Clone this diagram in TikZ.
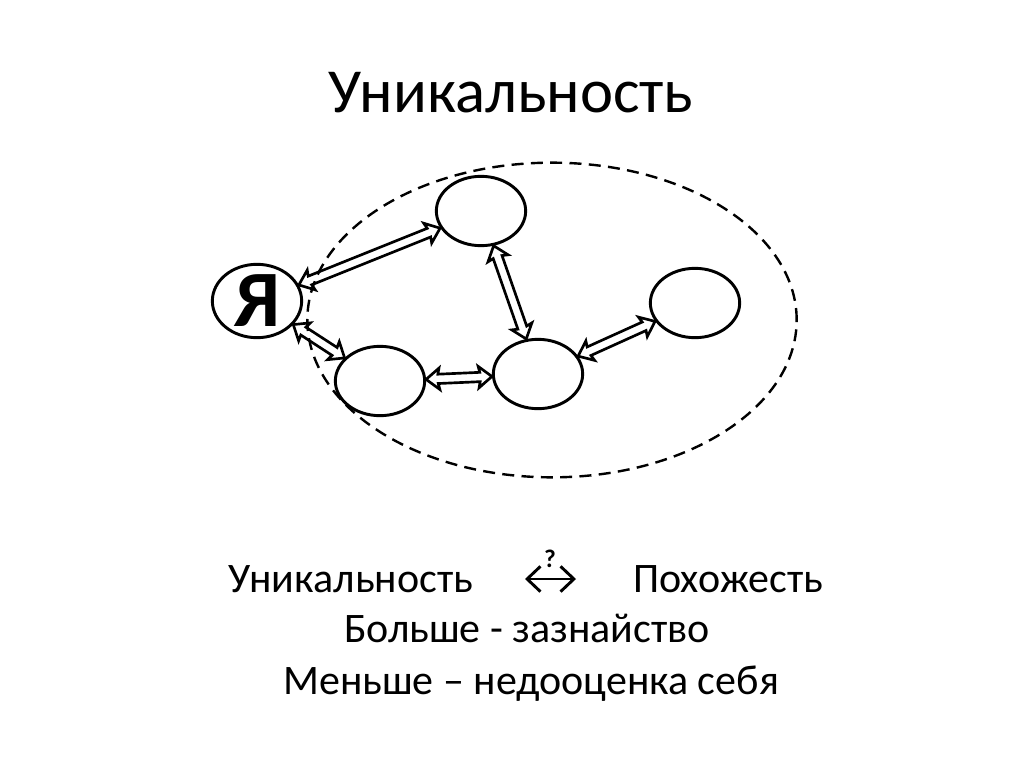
\documentclass[tikz,border=0pt]{standalone}
\usepackage{fontspec}
\setmainfont{Carlito}
\usetikzlibrary{arrows.meta,shapes.geometric,calc}
\tikzset{
  link/.style={draw,line width=2pt,line join=miter,to path={
    let \p1=(\tikztostart.center), \p2=(\tikztotarget.center),
        \n1={atan2(\y2-\y1,\x2-\x1)}, \n2={\n1+180},
        \p3=(\tikztostart.\n1), \p4=(\tikztotarget.\n2),
        \n3={veclen(\x4-\x3,\y4-\y3)}
    in [shift={(\p3)},rotate=\n1]
      (0pt,0pt) -- (10pt,8pt) -- (9pt,3.5pt) -- (\n3-9pt,3.5pt) -- (\n3-10pt,8pt)
      -- (\n3,0pt) -- (\n3-10pt,-8pt) -- (\n3-9pt,-3.5pt) -- (9pt,-3.5pt) -- (10pt,-8pt) -- cycle}}
}
\begin{document}
\begin{tikzpicture}[x=0.75pt,y=-0.75pt,
  bub/.style={draw,ellipse,line width=2.2pt,minimum width=67pt,minimum height=52pt,inner sep=0pt},
  line/.style={font=\fontsize{31.5}{38}\selectfont,anchor=base}]
  \useasboundingbox (0,0) rectangle (1024,767);
  \node[font=\fontsize{47}{56}\selectfont,anchor=base] (title) at (511,113) {Уникальность};
  % group and people
  \node[draw,ellipse,dashed,line width=1.8pt,dash pattern=on 9pt off 5.5pt,
    minimum width=367pt,minimum height=236pt] (group) at (552,320) {};
  \node[bub,font=\fontsize{60}{66}\selectfont\bfseries] (me) at (257,301) {Я};
  \node[bub] (top) at (481,211) {};
  \node[bub] (right) at (695,303) {};
  \node[bub] (mid) at (538,374) {};
  \node[bub] (low) at (380,381) {};
  \path[link] (me) to (top);
  \path[link] (me) to (low);
  \path[link] (top) to (mid);
  \path[link] (low) to (mid);
  \path[link] (mid) to (right);
  % text below
  \node[line,anchor=base west] (uniq) at (224,592) {Уникальность};
  \node[line,anchor=base east] (same) at (828,592) {Похожесть};
  \coordinate (ql) at (525,579);
  \coordinate (qr) at (576,579);
  \draw[line width=2.2pt,{Straight Barb[length=10pt,width=19pt]}-{Straight Barb[length=10pt,width=19pt]}] (ql) -- (qr);
  \node[font=\fontsize{19}{22}\selectfont\bfseries,anchor=base] (q) at (550,567) {?};
  \node[line] (more) at (527,642) {Больше - зазнайство};
  \node[line] (less) at (531,694) {Меньше – недооценка себя};
\end{tikzpicture}
\end{document}
